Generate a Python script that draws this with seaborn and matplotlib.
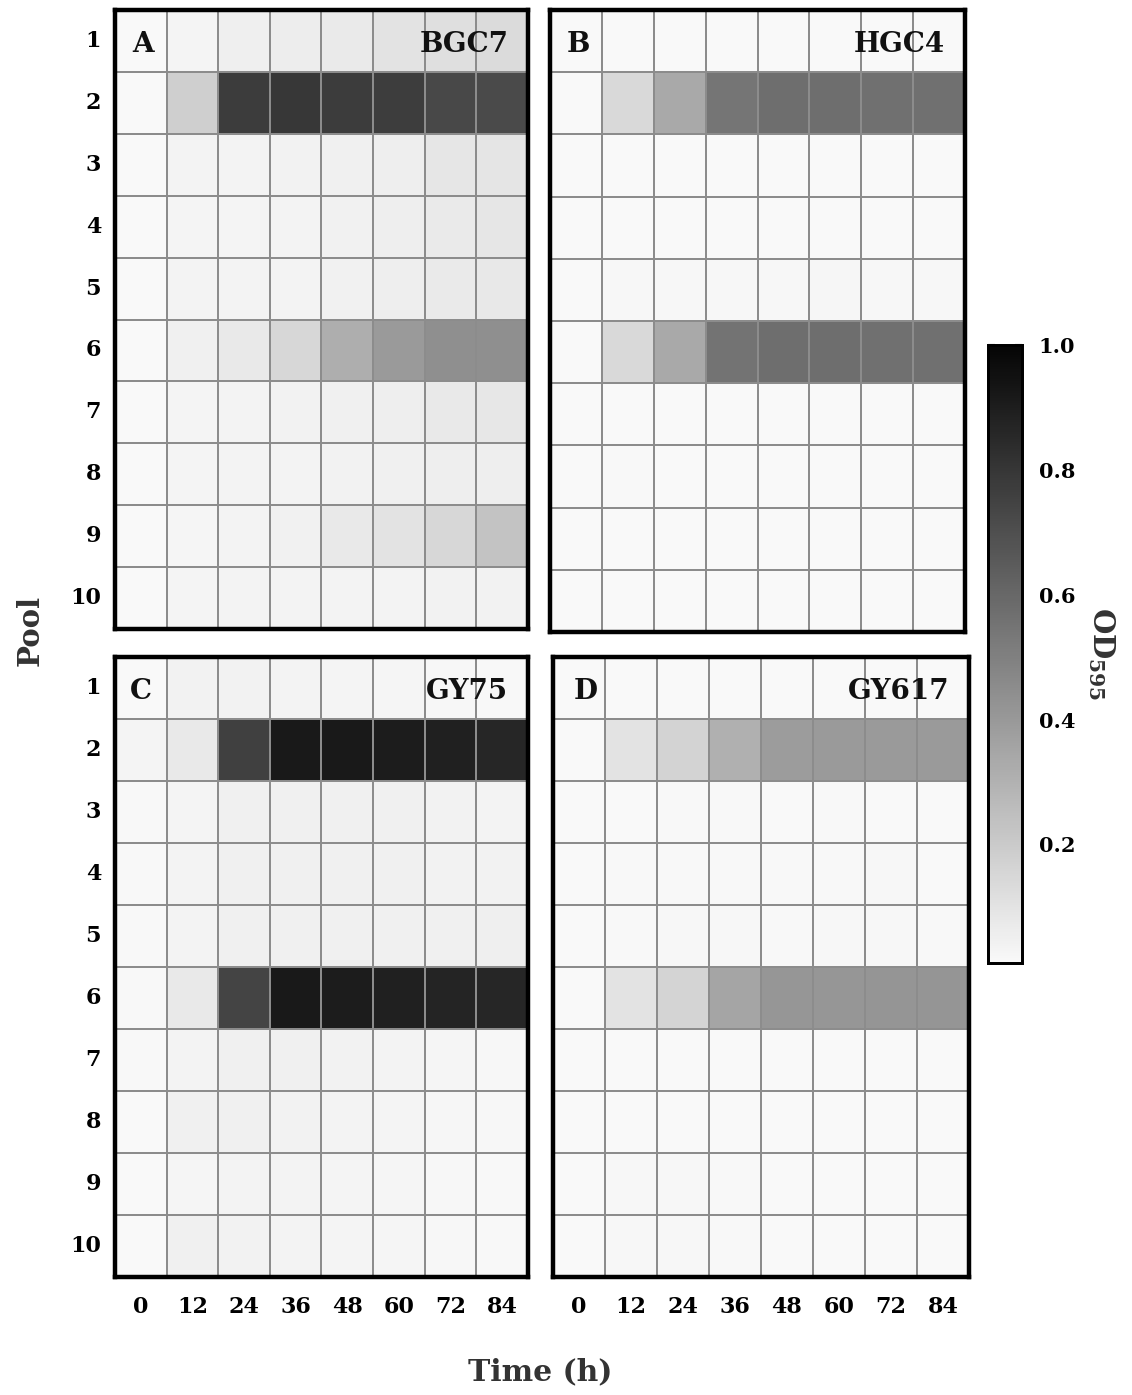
import numpy as np
import pandas as pd
import seaborn as sns
import matplotlib
matplotlib.use("Agg")
import matplotlib.pyplot as plt
from matplotlib.colors import LinearSegmentedColormap

# Pools (rows) and sampling times in hours (columns)
pools = [1, 2, 3, 4, 5, 6, 7, 8, 9, 10]
times = [0, 12, 24, 36, 48, 60, 72, 84]

# OD595 per pool over time, one table per strain
bgc7 = [
    [0.010, 0.033, 0.049, 0.061, 0.073, 0.100, 0.118, 0.130],
    [0.010, 0.183, 0.777, 0.797, 0.777, 0.769, 0.728, 0.720],
    [0.010, 0.036, 0.036, 0.040, 0.048, 0.060, 0.089, 0.093],
    [0.010, 0.033, 0.033, 0.036, 0.044, 0.056, 0.073, 0.089],
    [0.010, 0.036, 0.036, 0.036, 0.044, 0.056, 0.073, 0.080],
    [0.010, 0.045, 0.077, 0.150, 0.313, 0.394, 0.443, 0.443],
    [0.010, 0.033, 0.036, 0.040, 0.048, 0.060, 0.077, 0.085],
    [0.010, 0.033, 0.036, 0.036, 0.040, 0.048, 0.056, 0.060],
    [0.010, 0.029, 0.036, 0.044, 0.077, 0.100, 0.150, 0.228],
    [0.010, 0.033, 0.036, 0.036, 0.036, 0.036, 0.040, 0.040],
]
hgc4 = [
    [0.010, 0.010, 0.010, 0.010, 0.010, 0.010, 0.010, 0.010],
    [0.012, 0.138, 0.337, 0.545, 0.573, 0.573, 0.565, 0.565],
    [0.010, 0.012, 0.012, 0.012, 0.012, 0.012, 0.012, 0.012],
    [0.010, 0.012, 0.012, 0.012, 0.012, 0.012, 0.012, 0.012],
    [0.010, 0.018, 0.018, 0.020, 0.020, 0.022, 0.020, 0.018],
    [0.008, 0.138, 0.337, 0.553, 0.573, 0.573, 0.565, 0.565],
    [0.010, 0.010, 0.010, 0.010, 0.010, 0.010, 0.010, 0.010],
    [0.010, 0.014, 0.010, 0.010, 0.010, 0.010, 0.010, 0.010],
    [0.010, 0.010, 0.010, 0.010, 0.010, 0.010, 0.010, 0.010],
    [0.010, 0.010, 0.010, 0.010, 0.010, 0.010, 0.010, 0.010],
]
gy75 = [
    [0.010, 0.040, 0.040, 0.036, 0.033, 0.029, 0.020, 0.017],
    [0.030, 0.077, 0.760, 0.915, 0.915, 0.907, 0.890, 0.866],
    [0.016, 0.033, 0.045, 0.045, 0.045, 0.045, 0.040, 0.036],
    [0.016, 0.036, 0.045, 0.045, 0.045, 0.045, 0.040, 0.040],
    [0.016, 0.036, 0.045, 0.048, 0.045, 0.045, 0.048, 0.052],
    [0.016, 0.077, 0.744, 0.915, 0.907, 0.890, 0.874, 0.866],
    [0.016, 0.036, 0.045, 0.045, 0.040, 0.036, 0.029, 0.020],
    [0.010, 0.045, 0.045, 0.040, 0.036, 0.033, 0.025, 0.020],
    [0.008, 0.029, 0.036, 0.036, 0.033, 0.029, 0.020, 0.016],
    [0.008, 0.045, 0.040, 0.036, 0.033, 0.029, 0.020, 0.016],
]
gy617 = [
    [0.012, 0.012, 0.012, 0.012, 0.012, 0.012, 0.012, 0.012],
    [0.010, 0.100, 0.167, 0.305, 0.386, 0.394, 0.394, 0.394],
    [0.010, 0.012, 0.015, 0.015, 0.012, 0.015, 0.012, 0.012],
    [0.010, 0.015, 0.015, 0.015, 0.015, 0.015, 0.018, 0.012],
    [0.010, 0.015, 0.018, 0.018, 0.015, 0.018, 0.018, 0.015],
    [0.010, 0.100, 0.163, 0.354, 0.410, 0.410, 0.419, 0.419],
    [0.012, 0.012, 0.012, 0.012, 0.012, 0.012, 0.012, 0.012],
    [0.012, 0.012, 0.012, 0.012, 0.012, 0.012, 0.012, 0.012],
    [0.010, 0.018, 0.018, 0.015, 0.012, 0.012, 0.012, 0.012],
    [0.010, 0.018, 0.018, 0.015, 0.012, 0.012, 0.012, 0.012],
]

panel_letters = ["A", "B", "C", "D"]
strain_names = ["BGC7", "HGC4", "GY75", "GY617"]
tables = [bgc7, hgc4, gy75, gy617]

sns.set_theme(style="white")
plt.rcParams["font.family"] = ["DejaVu Serif"]
plt.rcParams["font.weight"] = "bold"
plt.rcParams["mathtext.fontset"] = "dejavuserif"

cmap = LinearSegmentedColormap.from_list("od_grey", ["#f9f9f9", "#050505"])
VMIN, VMAX = 0.01, 1.0

fig = plt.figure(figsize=(11.32, 13.95), dpi=100)

# axes rectangles in figure fractions: left, bottom, width, height
rects = [
    (0.1016, 0.5491, 0.3648, 0.4437),
    (0.4859, 0.5470, 0.3666, 0.4459),
    (0.1016, 0.0846, 0.3648, 0.4444),
    (0.4885, 0.0846, 0.3675, 0.4444),
]
cax = fig.add_axes((0.8728, 0.3097, 0.0300, 0.4430))

letter_x = [0.54, 0.54, 0.50, 0.62]

for i, (rect, table) in enumerate(zip(rects, tables)):
    ax = fig.add_axes(rect)
    df = pd.DataFrame(table, index=pools, columns=times)
    sns.heatmap(
        df, ax=ax, cmap=cmap, vmin=VMIN, vmax=VMAX,
        linewidths=1.1, linecolor="#8c8c8c",
        cbar=(i == 0), cbar_ax=cax if i == 0 else None,
    )
    for sp in ax.spines.values():
        sp.set_visible(True)
        sp.set_color("black")
        sp.set_linewidth(3.2)
    ax.tick_params(length=0)
    ax.set_xlabel("")
    ax.set_ylabel("")
    if i in (0, 2):
        ax.set_yticklabels([str(p) for p in pools], rotation=0,
                           fontsize=16, fontweight="bold", color="black")
        ax.tick_params(axis="y", pad=10)
    else:
        ax.set_yticklabels([])
    if i in (2, 3):
        ax.set_xticklabels([str(t) for t in times], rotation=0,
                           fontsize=16, fontweight="bold", color="black")
        ax.tick_params(axis="x", pad=14)
    else:
        ax.set_xticklabels([])

    ax.text(letter_x[i], 0.55, panel_letters[i], ha="center", va="center",
            fontsize=20, fontweight="bold", color="#111111")
    ax.text(7.62, 0.55, strain_names[i], ha="right", va="center",
            fontsize=20, fontweight="bold", color="#111111")

# colour bar styling
cax.set_yticks([0.2, 0.4, 0.6, 0.8, 1.0])
cax.set_yticklabels(["0.2", "0.4", "0.6", "0.8", "1.0"],
                    fontsize=15, fontweight="bold")
cax.tick_params(axis="y", direction="in", length=5, width=1.5,
                left=True, right=True, pad=12, colors="black")
for sp in cax.spines.values():
    sp.set_visible(True)
    sp.set_color("black")
    sp.set_linewidth(2)
cbar = cax.collections[0].colorbar if cax.collections else None
cbar_outline = getattr(cbar, "outline", None)
if cbar_outline is not None:
    cbar_outline.set_edgecolor("black")
    cbar_outline.set_linewidth(2)
cax.set_ylabel(r"OD$_{595}$", rotation=270, fontsize=21, fontweight="bold",
               color="#333333", labelpad=30)

fig.text(0.027, 0.548, "Pool", rotation=90, ha="center", va="center",
         fontsize=21, fontweight="bold", color="#333333")
fig.text(0.477, 0.0165, "Time (h)", ha="center", va="center",
         fontsize=21.5, fontweight="bold", color="#333333")

fig.savefig("out.png", dpi=100, facecolor="white")
